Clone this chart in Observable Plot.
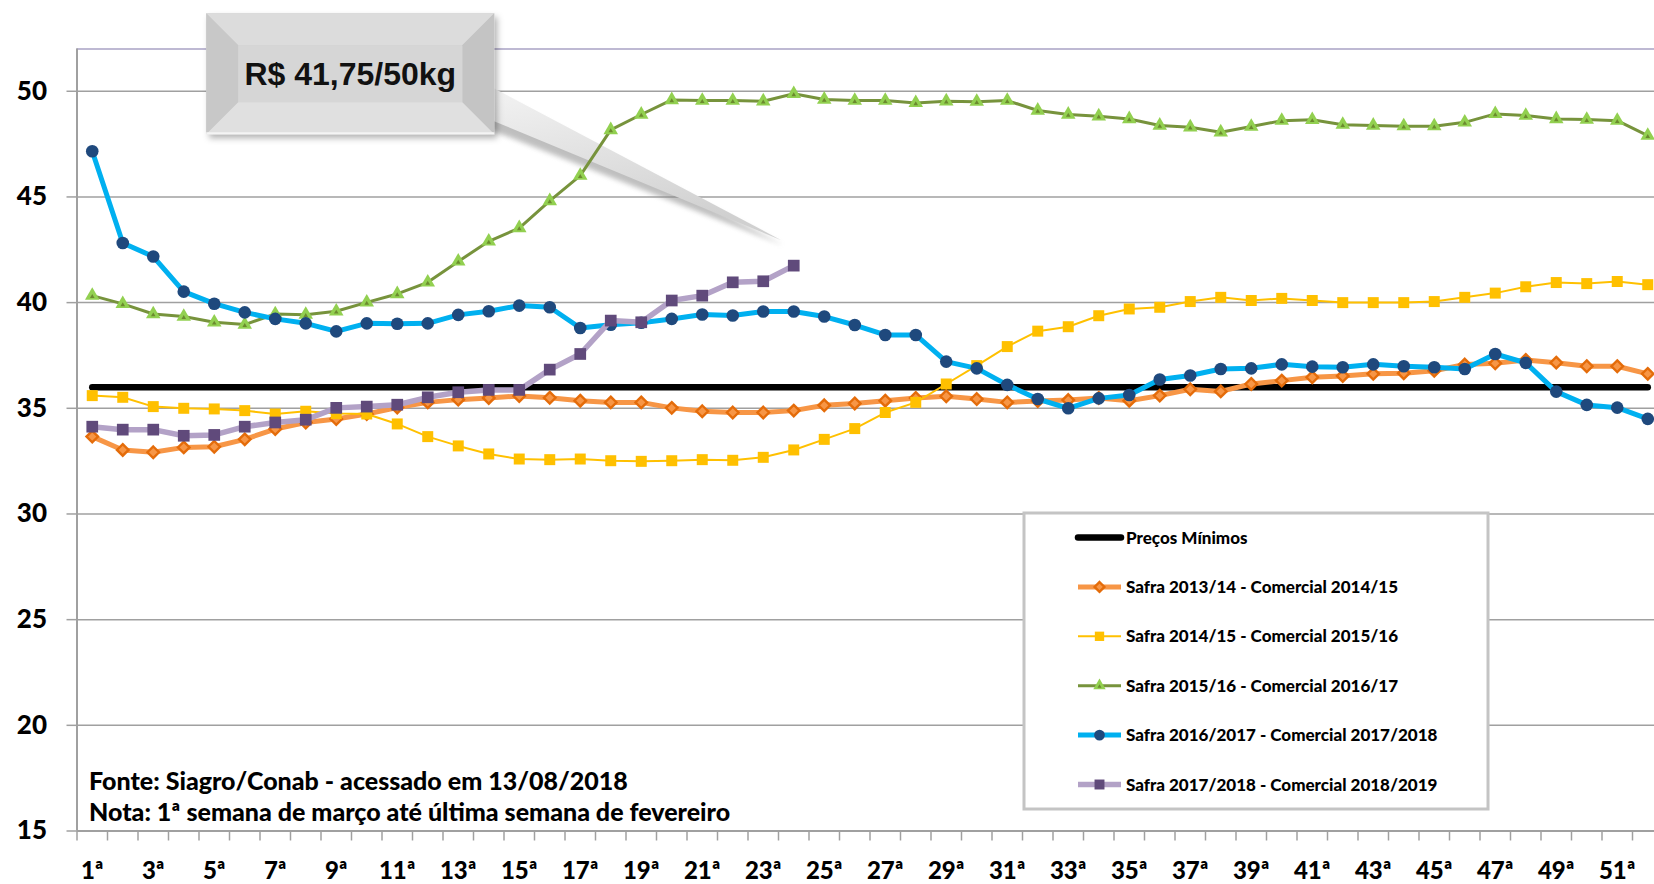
<!DOCTYPE html>
<html>
<head>
<meta charset="utf-8">
<script src="https://cdn.jsdelivr.net/npm/d3@7"></script>
<script src="https://cdn.jsdelivr.net/npm/@observablehq/plot@0.6"></script>
<style>
  html, body { margin: 0; padding: 0; background: #fff; overflow: hidden; }
  #chart svg { display: block; overflow: hidden; }
  #chart svg g[aria-label="y-axis tick label"] { font-weight: 900; font-size: 26px; font-family: Lato, sans-serif; }
  #chart svg g[aria-label="x-axis tick label"] { font-weight: 900; font-size: 24px; font-family: Lato, sans-serif; }
</style>
</head>
<body>
<div id="chart"></div>
<script>
// ---------- DATA ----------
const weekLabels = ["1ª","2ª","3ª","4ª","5ª","6ª","7ª","8ª","9ª","10ª","11ª","12ª","13ª","14ª","15ª","16ª","17ª","18ª","19ª","20ª","21ª","22ª","23ª","24ª","25ª","26ª","27ª","28ª","29ª","30ª","31ª","32ª","33ª","34ª","35ª","36ª","37ª","38ª","39ª","40ª","41ª","42ª","43ª","44ª","45ª","46ª","47ª","48ª","49ª","50ª","51ª","52ª"];
const yTicks = [15, 20, 25, 30, 35, 40, 45, 50];
const precoMinimo = 36;

const safra1314 = [33.66,33.03,32.92,33.15,33.18,33.53,34.02,34.33,34.49,34.73,35.04,35.28,35.41,35.49,35.58,35.50,35.36,35.28,35.28,35.02,34.86,34.80,34.80,34.89,35.14,35.23,35.36,35.49,35.57,35.44,35.28,35.34,35.39,35.49,35.36,35.60,35.90,35.80,36.15,36.31,36.47,36.53,36.63,36.66,36.78,37.07,37.13,37.29,37.16,36.99,36.99,36.63];
const safra1415 = [35.60,35.52,35.08,35.00,34.97,34.89,34.73,34.86,34.75,34.73,34.26,33.66,33.22,32.84,32.60,32.57,32.60,32.52,32.49,32.52,32.57,32.54,32.68,33.03,33.53,34.04,34.80,35.28,36.15,37.02,37.92,38.65,38.86,39.38,39.70,39.78,40.05,40.25,40.10,40.20,40.10,40.00,40.00,40.00,40.05,40.25,40.45,40.75,40.95,40.90,41.00,40.85];
const safra1516 = [40.33,39.94,39.46,39.34,39.07,38.96,39.46,39.43,39.59,40.01,40.41,40.96,41.95,42.90,43.53,44.81,46.01,48.17,48.90,49.59,49.56,49.56,49.53,49.88,49.61,49.56,49.56,49.45,49.53,49.51,49.56,49.09,48.90,48.82,48.69,48.38,48.30,48.06,48.33,48.61,48.65,48.42,48.38,48.35,48.35,48.53,48.93,48.85,48.69,48.66,48.61,47.90];
const safra1617 = [47.16,42.82,42.18,40.52,39.95,39.54,39.23,39.02,38.64,39.02,39.00,39.02,39.42,39.59,39.86,39.78,38.80,38.95,39.05,39.23,39.44,39.39,39.58,39.58,39.34,38.94,38.47,38.47,37.21,36.89,36.11,35.44,35.00,35.47,35.63,36.36,36.55,36.86,36.89,37.08,36.97,36.94,37.08,36.99,36.94,36.86,37.57,37.15,35.79,35.16,35.03,34.50];
const safra1718 = [34.13,33.99,33.99,33.70,33.74,34.13,34.33,34.46,35.02,35.08,35.17,35.52,35.76,35.87,35.87,36.83,37.57,39.15,39.07,40.10,40.33,40.96,41.01,41.75];

const legendLabels = ["Preços Mínimos","Safra 2013/14 - Comercial 2014/15","Safra 2014/15 - Comercial 2015/16","Safra 2015/16 - Comercial 2016/17","Safra 2016/2017 - Comercial 2017/2018","Safra 2017/2018 - Comercial 2018/2019"];
const calloutText = "R$ 41,75/50kg";
const notes = ["Fonte: Siagro/Conab - acessado em 13/08/2018", "Nota: 1ª semana de março até última semana de fevereiro"];

// ---------- STYLES ----------
const styles = [
  {line: "#000000", width: 6.5},
  {line: "#F79646", width: 5, symbol: "diamond2", r: 5.2, fill: "#F79646", stroke: "#E46C0A", sw: 2.4},
  {line: "#FFC000", width: 2, symbol: "square", r: 6.2, fill: "#FFC000", stroke: "none", sw: 0},
  {line: "#77933C", width: 3, symbol: "triangle", r: 5.4, fill: "#92D050", stroke: "none", sw: 0, inner: "#6B8A2E"},
  {line: "#00B0F0", width: 5, symbol: "circle", r: 6.3, fill: "#1F497D", stroke: "none", sw: 0},
  {line: "#B3A2C7", width: 5.5, symbol: "square", r: 6.6, fill: "#604A7B", stroke: "none", sw: 0}
];

const weeks = weekLabels.map((_, i) => i + 1);
const rows = vals => vals.map((v, i) => ({x: i + 1, y: v})).filter(d => d.y != null);
const seriesData = [safra1314, safra1415, safra1516, safra1617, safra1718];
const boundaries = [0.5].concat(weeks.map(w => w + 0.5));
const oddWeeks = weeks.filter(w => w % 2 === 1);

const seriesMarks = [];
seriesMarks.push(Plot.line([weeks[0], weeks[weeks.length - 1]], {x: d => d, y: () => precoMinimo, stroke: styles[0].line, strokeWidth: styles[0].width, strokeLinecap: "round"}));
seriesData.forEach((vals, k) => {
  const s = styles[k + 1];
  const data = rows(vals);
  seriesMarks.push(Plot.line(data, {x: "x", y: "y", stroke: s.line, strokeWidth: s.width, strokeLinejoin: "round", strokeLinecap: "round"}));
  seriesMarks.push(Plot.dot(data, {x: "x", y: "y", symbol: s.symbol, r: s.r, fill: s.fill, stroke: s.stroke, strokeWidth: s.sw}));
  if (s.inner) seriesMarks.push(Plot.dot(data, {x: "x", y: "y", symbol: "triangle", r: 1.7, fill: s.inner, stroke: "none", dy: 1}));
});

const gridColor = "#a0a0a0";
const plot = Plot.plot({
  width: 1654,
  height: 884,
  marginLeft: 76.5,
  marginRight: 0,
  marginTop: 48.5,
  marginBottom: 53.5,
  x: {domain: [0.5, 52.5], range: [76.5, 1662.5]},
  y: {domain: [15, 52]},
  style: {fontFamily: "Lato, sans-serif", background: "#fff", color: "#000"},
  marks: [
    Plot.gridY(yTicks.filter(t => t > 15), {stroke: gridColor, strokeOpacity: 1, strokeWidth: 1.5}),
    Plot.ruleY([52], {stroke: "#a9a2c4", strokeWidth: 1.5}),
    Plot.axisY(yTicks, {tickSize: 10, tickPadding: 20, stroke: gridColor, strokeWidth: 1.5, fill: "#000", fontSize: 26, fontWeight: "bold", label: null}),
    Plot.axisX(boundaries, {tickSize: 10, tickPadding: 0, tickFormat: () => "", stroke: gridColor, strokeWidth: 1.5, label: null}),
    Plot.axisX(oddWeeks, {tickSize: 0, tickPadding: 31, tickFormat: d => weekLabels[d - 1], fill: "#000", fontSize: 24, fontWeight: "bold", label: null}),
    Plot.ruleY([15], {stroke: gridColor, strokeWidth: 2}),
    Plot.ruleX([0.5], {stroke: gridColor, strokeWidth: 2}),
    ...seriesMarks
  ]
});
document.getElementById("chart").appendChild(plot);

// ---------- ANNOTATIONS ----------
const X = plot.scale("x"), Y = plot.scale("y");
const svg = d3.select(plot);
const defs = svg.append("defs");
const f = defs.append("filter").attr("id", "shadow").attr("x", "-20%").attr("y", "-20%").attr("width", "150%").attr("height", "150%");
f.append("feDropShadow").attr("dx", 3).attr("dy", 4).attr("stdDeviation", 3).attr("flood-color", "#000").attr("flood-opacity", 0.3);
const f2 = defs.append("filter").attr("id", "soft").attr("x", "-20%").attr("y", "-20%").attr("width", "150%").attr("height", "150%");
f2.append("feGaussianBlur").attr("stdDeviation", 2.5);
const g1 = defs.append("linearGradient").attr("id", "wedgeGrad").attr("x1", 0).attr("y1", 0).attr("x2", 0.3).attr("y2", 1);
g1.append("stop").attr("offset", "0%").attr("stop-color", "#f4f4f4");
g1.append("stop").attr("offset", "100%").attr("stop-color", "#d0d0d0");

const lastIdx = safra1718.length - 1;
const ax = X.apply(lastIdx + 1), ay = Y.apply(safra1718[lastIdx]);
const tip = [ax - 12, ay - 25];
const bx0 = ax - 587, bx1 = ax - 299, by0 = ay - 252, by1 = ay - 131, bev = 32;

const callout = svg.append("g").attr("class", "callout");
callout.append("polygon")
  .attr("points", [[bx1 - 10, by0 + 72], [bx1 - 10, by0 + 110], tip].map(p => p.join(",")).join(" "))
  .attr("fill", "#8a8a8a").attr("opacity", 0.55).attr("filter", "url(#soft)")
  .attr("transform", "translate(2,5)");
callout.append("polygon")
  .attr("points", [[bx1 - 10, by0 + 70], [bx1 - 10, by0 + 104], tip].map(p => p.join(",")).join(" "))
  .attr("fill", "url(#wedgeGrad)");
callout.append("rect").attr("x", bx0).attr("y", by0).attr("width", bx1 - bx0).attr("height", by1 - by0)
  .attr("fill", "#d2d2d2").attr("filter", "url(#shadow)");
const bevel = (pts, fill) => callout.append("polygon").attr("points", pts.map(p => p.join(",")).join(" ")).attr("fill", fill);
bevel([[bx0, by0], [bx1, by0], [bx1 - bev, by0 + bev], [bx0 + bev, by0 + bev]], "#dcdcdc");
bevel([[bx0, by0], [bx0 + bev, by0 + bev], [bx0 + bev, by1 - bev], [bx0, by1]], "#c8c8c8");
bevel([[bx1, by0], [bx1, by1], [bx1 - bev, by1 - bev], [bx1 - bev, by0 + bev]], "#c4c4c4");
bevel([[bx0, by1], [bx0 + bev, by1 - bev], [bx1 - bev, by1 - bev], [bx1, by1]], "#e0e0e0");
callout.append("rect").attr("x", bx0 + bev).attr("y", by0 + bev).attr("width", bx1 - bx0 - 2 * bev).attr("height", by1 - by0 - 2 * bev).attr("fill", "#d6d6d6");
callout.append("line").attr("x1", bx0).attr("x2", bx1).attr("y1", by1 - 1).attr("y2", by1 - 1).attr("stroke", "#f4f4f4").attr("stroke-width", 2);
callout.append("text").attr("x", (bx0 + bx1) / 2).attr("y", (by0 + by1) / 2 + 11)
  .attr("text-anchor", "middle").attr("font-family", "'Liberation Sans', Arial, sans-serif")
  .attr("font-weight", "bold").attr("font-size", 32).attr("fill", "#111").text(calloutText);

const firstLine = plot.querySelector('g[aria-label="line"]');
if (firstLine) plot.insertBefore(callout.node(), firstLine);

// notes
notes.forEach((t, i) => {
  svg.append("text").attr("x", 89).attr("y", 790 + i * 31).attr("text-anchor", "start")
    .attr("font-family", "Lato, sans-serif").attr("font-weight", 900).attr("font-size", 25)
    .attr("fill", "#000").text(t);
});

// legend
const lg = svg.append("g").attr("class", "legend");
lg.append("rect").attr("x", 1024).attr("y", 513).attr("width", 464).attr("height", 296)
  .attr("fill", "#fff").attr("stroke", "#c4c4c4").attr("stroke-width", 3);
legendLabels.forEach((lab, i) => {
  const s = styles[i];
  const cy = 537.5 + i * 49.4;
  lg.append("line").attr("x1", 1078).attr("x2", 1121).attr("y1", cy).attr("y2", cy)
    .attr("stroke", s.line).attr("stroke-width", s.width).attr("stroke-linecap", i === 0 ? "round" : "butt");
  if (s.symbol) {
    const sym = {diamond2: d3.symbolDiamond2, square: d3.symbolSquare, triangle: d3.symbolTriangle, circle: d3.symbolCircle}[s.symbol];
    const rr = s.r * 0.85;
    lg.append("path").attr("d", d3.symbol(sym, rr * rr * Math.PI)()).attr("transform", `translate(1099.5,${cy})`)
      .attr("fill", s.fill).attr("stroke", s.stroke).attr("stroke-width", s.sw);
    if (s.inner) lg.append("path").attr("d", d3.symbol(d3.symbolTriangle, 1.5 * 1.5 * Math.PI)()).attr("transform", `translate(1099.5,${cy + 1})`).attr("fill", s.inner);
  }
  lg.append("text").attr("x", 1126).attr("y", cy + 6).attr("text-anchor", "start")
    .attr("font-family", "Lato, sans-serif").attr("font-weight", 900).attr("font-size", 17)
    .attr("fill", "#000").text(lab);
});
</script>
</body>
</html>
